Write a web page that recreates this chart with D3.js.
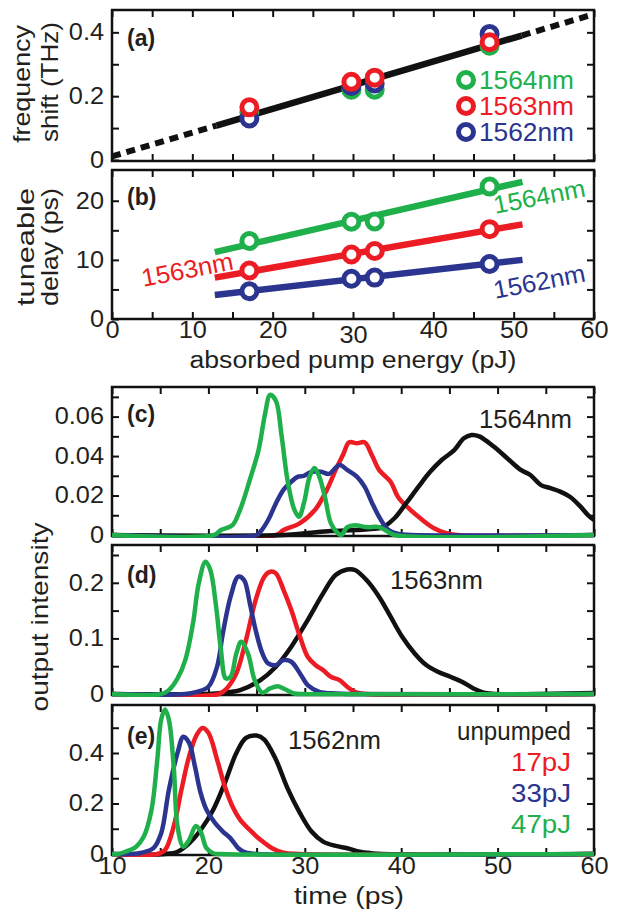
<!DOCTYPE html>
<html>
<head>
<meta charset="utf-8">
<script src="https://cdn.jsdelivr.net/npm/d3@7"></script>
<style>
  body { margin: 0; background: #fff; }
  svg { font-family: "Liberation Sans", Arial, sans-serif; }
  .domain { display: none; }
  .tick line { stroke: #111; stroke-width: 2; }
  .tick text { font-size: 23px; fill: #231f20; }
</style>
</head>
<body>
<div id="chart"></div>
<script>
const width = 618;
const height = 911;

const green = "#20b04b";
const red = "#ec1c24";
const blue = "#2b3590";
const black = "#111";

// (a) + (b): pump energies
const energies = [17.1, 29.8, 32.7, 47.0];
const shift1564 = [0.15, 0.22, 0.22, 0.358];
const shift1563 = [0.165, 0.245, 0.258, 0.369];
const shift1562 = [0.13, 0.232, 0.24, 0.395];
const shiftFitX = [0, 13, 51, 60];
const shiftFitY = [0.011, 0.108, 0.390, 0.457];

const delay1564 = [13.2, 16.45, 16.5, 22.4];
const delay1563 = [8.2, 10.9, 11.5, 15.2];
const delay1562 = [4.7, 6.8, 7.0, 9.3];
const delayFitX = [12.8, 51.1];
const delayFit1564 = [11.3, 23.2];
const delayFit1563 = [7.0, 16.0];
const delayFit1562 = [4.05, 10.0];

// (c) 1564nm traces [time ps, intensity]
const c_unpumped = [[10,0],[27.8,0],[30.3,0.001],[32.7,0.002],[35.2,0.0025],[36.8,0.003],[38.1,0.004],[39.3,0.0085],[40.5,0.016],[41.8,0.0245],[43.0,0.032],[44.2,0.038],[45.5,0.043],[46.5,0.049],[47.3,0.0507],[48.1,0.050],[49.6,0.0448],[51.2,0.038],[52.4,0.033],[53.4,0.0304],[54.5,0.0253],[55.5,0.0237],[56.5,0.022],[57.5,0.0194],[58.6,0.0144],[59.4,0.010],[60,0.0076]];
const c_17 = [[10,0],[27,0],[27.8,0.0025],[29.5,0.006],[31.1,0.013],[32.3,0.023],[33.2,0.033],[34.0,0.041],[34.6,0.047],[35.4,0.0465],[36.2,0.047],[37.0,0.040],[37.7,0.033],[38.9,0.027],[39.7,0.019],[40.9,0.013],[42.2,0.0076],[43.4,0.0034],[44.6,0.001],[45.8,0],[60,0]];
const c_33 = [[10,0],[25,0],[25.4,0.0017],[26.2,0.0076],[27.0,0.016],[27.8,0.023],[28.6,0.027],[29.3,0.0296],[29.9,0.030],[30.7,0.032],[31.7,0.032],[32.5,0.031],[33.6,0.0355],[34.4,0.033],[35.4,0.0296],[36.2,0.0245],[37.0,0.016],[37.9,0.0076],[38.7,0.0025],[39.7,0.0005],[41,0],[60,0]];
const c_47 = [[10,0],[20.6,0],[21.3,0.0025],[22.5,0.005],[23.3,0.013],[24.3,0.028],[25.2,0.043],[25.9,0.062],[26.4,0.071],[27.0,0.068],[27.6,0.05],[28.2,0.028],[28.9,0.013],[29.4,0.0093],[29.9,0.016],[30.5,0.0296],[31.0,0.034],[31.5,0.0296],[32.1,0.019],[32.7,0.006],[33.4,0.001],[33.8,0],[34.4,0.004],[35.2,0.005],[36.4,0.004],[37.7,0.004],[38.5,0.002],[39.3,0],[60,0]];

// (d) 1563nm traces
const d_unpumped = [[10,0],[19.6,0],[21.3,0.002],[23.3,0.007],[25.4,0.025],[27.0,0.049],[28.6,0.085],[30.3,0.133],[31.9,0.181],[33.2,0.214],[34.4,0.224],[35.2,0.223],[36.4,0.205],[37.7,0.175],[38.9,0.139],[40.1,0.103],[41.4,0.073],[42.6,0.052],[43.8,0.040],[45.1,0.031],[46.3,0.022],[47.5,0.010],[48.7,0.002],[50,0],[60,0.002]];
const d_17 = [[10,0],[21.1,0],[21.9,0.010],[22.9,0.037],[23.9,0.097],[24.9,0.169],[25.8,0.211],[26.4,0.220],[27.0,0.217],[27.8,0.187],[28.6,0.151],[29.5,0.103],[30.3,0.067],[31.1,0.052],[31.9,0.043],[32.7,0.031],[33.6,0.025],[34.4,0.013],[35.2,0.004],[36.4,0],[60,0]];
const d_33 = [[10,0],[17.6,0],[18.8,0.004],[20.0,0.013],[20.9,0.049],[21.5,0.109],[22.3,0.175],[23.1,0.211],[23.7,0.205],[24.3,0.163],[24.9,0.115],[25.6,0.073],[26.2,0.055],[27.0,0.052],[27.8,0.061],[28.6,0.058],[29.5,0.037],[30.3,0.016],[31.5,0.004],[33.2,0.001],[34.5,0],[60,0]];
const d_47 = [[10,0],[15.1,0],[15.9,0.007],[16.8,0.028],[17.6,0.061],[18.4,0.127],[19.0,0.199],[19.7,0.238],[20.2,0.223],[20.8,0.157],[21.3,0.079],[21.8,0.028],[22.3,0.031],[22.9,0.073],[23.4,0.094],[24.1,0.073],[24.8,0.025],[25.6,0.0024],[26.4,0.010],[27.2,0.014],[28.0,0.008],[28.9,0.001],[30,0],[60,0]];

// (e) 1562nm traces
const e_unpumped = [[10,0],[15.5,0],[16.8,0.009],[18.0,0.042],[19.2,0.095],[20.5,0.175],[21.7,0.281],[22.9,0.40],[23.9,0.46],[25.0,0.469],[25.8,0.453],[27.0,0.374],[28.2,0.261],[29.5,0.162],[30.7,0.089],[31.9,0.049],[33.2,0.032],[34.4,0.023],[35.7,0.009],[36.9,0.003],[38,0],[60,0]];
const e_17 = [[10,0],[14.7,0],[15.5,0.016],[16.4,0.109],[17.2,0.254],[18.0,0.387],[18.8,0.473],[19.4,0.499],[20.0,0.48],[20.9,0.374],[21.7,0.268],[22.5,0.188],[23.3,0.135],[24.3,0.095],[25.4,0.056],[26.6,0.023],[27.8,0.005],[29.4,0],[60,0]];
const e_33 = [[10,0],[11.8,0],[13.1,0.005],[14.3,0.023],[15.1,0.082],[15.9,0.254],[16.8,0.40],[17.4,0.464],[18.0,0.44],[18.6,0.347],[19.2,0.241],[19.8,0.175],[20.7,0.122],[21.5,0.089],[22.3,0.062],[23.1,0.023],[23.9,0.005],[25,0],[60,0]];
const e_47 = [[10,0],[10.6,0],[11.4,0.009],[12.5,0.029],[13.3,0.069],[14.1,0.175],[14.7,0.374],[15.1,0.532],[15.5,0.572],[15.9,0.532],[16.4,0.347],[16.8,0.109],[17.4,0.029],[18.0,0.056],[18.7,0.111],[19.2,0.089],[19.8,0.023],[20.5,0.003],[21.3,0],[60,0]];

const svg = d3.select("#chart").append("svg")
    .attr("width", width)
    .attr("height", height);

const left = 112;
const right = 594;

// tick labels in the figure are a little wider than Liberation Sans
function widen(sel) {
    sel.selectAll(".tick text").each(function () {
        if (this.textContent) {
            d3.select(this)
                .attr("textLength", this.getComputedTextLength() * 1.1)
                .attr("lengthAdjust", "spacingAndGlyphs");
        }
    });
}

function frame(top, bottom, x, y, xTicks, xLabels, yTicks, yLabels) {
    const g = svg.append("g");
    g.append("rect")
        .attr("x", left).attr("y", top)
        .attr("width", right - left).attr("height", bottom - top)
        .attr("fill", "none").attr("stroke", "#111").attr("stroke-width", 2.5);
    const fmtX = d => xLabels.includes(d) ? d : "";
    const fmtY = d => {
        const hit = yLabels.find(v => Math.abs(v - d) < 1e-9);
        return hit === undefined ? "" : String(hit);
    };
    g.append("g").attr("class", "xaxis").attr("transform", `translate(0,${bottom})`)
        .call(d3.axisBottom(x).tickValues(xTicks).tickSize(-7).tickPadding(3).tickFormat(fmtX))
        .call(widen);
    g.append("g").attr("transform", `translate(0,${top})`)
        .call(d3.axisTop(x).tickValues(xTicks).tickSize(-7).tickFormat(""));
    g.append("g").attr("transform", `translate(${left},0)`)
        .call(d3.axisLeft(y).tickValues(yTicks).tickSize(-7).tickPadding(8).tickFormat(fmtY))
        .call(widen);
    g.append("g").attr("transform", `translate(${right},0)`)
        .call(d3.axisRight(y).tickValues(yTicks).tickSize(-7).tickFormat(""));
    return g;
}

function panelLabel(text, y) {
    svg.append("text").attr("x", 127).attr("y", y)
        .attr("font-size", 23).attr("font-weight", "bold").attr("fill", "#231f20")
        .text(text);
}

function vTitle(text, x, yc, len) {
    svg.append("text")
        .attr("transform", `translate(${x},${yc}) rotate(-90)`)
        .attr("text-anchor", "middle")
        .attr("font-size", 24).attr("fill", "#231f20")
        .attr("textLength", len).attr("lengthAdjust", "spacingAndGlyphs")
        .text(text);
}

// ---------- (a) ----------
const xE = d3.scaleLinear().domain([0, 60]).range([left, right]);
const yA = d3.scaleLinear().domain([0, 0.47]).range([160, 10]);
frame(10, 161, xE, yA, d3.range(0, 61, 5), [], d3.range(0, 0.45, 0.1), [0, 0.2, 0.4]);

const fitLine = d3.line().x(d => xE(d[0])).y(d => yA(d[1]));
const fitPts = shiftFitX.map((v, i) => [v, shiftFitY[i]]);
[fitPts.slice(0, 2), fitPts.slice(2, 4)].forEach(seg => {
    svg.append("path").datum(seg).attr("d", fitLine)
        .attr("stroke", black).attr("stroke-width", 6).attr("stroke-dasharray", "9,6").attr("fill", "none");
});
svg.append("path").datum(fitPts.slice(1, 3)).attr("d", fitLine)
    .attr("stroke", black).attr("stroke-width", 6.5).attr("fill", "none");

function rings(vals, yScale, color) {
    svg.append("g").selectAll("circle")
        .data(energies.map((e, i) => [e, vals[i]]))
        .enter().append("circle")
        .attr("cx", d => xE(d[0])).attr("cy", d => yScale(d[1]))
        .attr("r", 7.5).attr("fill", "#fff")
        .attr("stroke", color).attr("stroke-width", 5);
}
rings(shift1564, yA, green);
rings(shift1562, yA, blue);
rings(shift1563, yA, red);

const legendA = [["1564nm", green], ["1563nm", red], ["1562nm", blue]];
legendA.forEach(([t, c], i) => {
    const yy = 80 + i * 26;
    svg.append("circle").attr("cx", 466).attr("cy", yy).attr("r", 7.5)
        .attr("fill", "#fff").attr("stroke", c).attr("stroke-width", 5);
    svg.append("text").attr("x", 479).attr("y", yy + 9)
        .attr("font-size", 25).attr("fill", c)
        .attr("textLength", 95).attr("lengthAdjust", "spacingAndGlyphs").text(t);
});
panelLabel("(a)", 46);
vTitle("frequency", 30, 84, 118);
vTitle("shift (THz)", 58, 82, 120);

// ---------- (b) ----------
const yB = d3.scaleLinear().domain([0, 25.2]).range([319, 170]);
const gB = frame(170, 319, xE, yB, d3.range(0, 61, 5), [0, 10, 20, 30, 40, 50, 60], d3.range(0, 25, 5), [0, 10, 20]);
gB.selectAll(".xaxis .tick text").filter(d => d === 30).attr("transform", "translate(0,5)");

const delayLine = d3.line().x(d => xE(d[0])).y(d => yB(d[1]));
[[delayFit1564, delay1564, green], [delayFit1563, delay1563, red], [delayFit1562, delay1562, blue]].forEach(([fit, pts, c]) => {
    svg.append("path").datum(delayFitX.map((v, i) => [v, fit[i]])).attr("d", delayLine)
        .attr("stroke", c).attr("stroke-width", 6.5).attr("fill", "none");
    rings(pts, yB, c);
});
function slantLabel(text, cx, cy, color) {
    svg.append("text")
        .attr("transform", `translate(${cx},${cy}) rotate(-11)`)
        .attr("text-anchor", "middle")
        .attr("font-size", 25).attr("fill", color)
        .attr("textLength", 93).attr("lengthAdjust", "spacingAndGlyphs")
        .text(text);
}
slantLabel("1564nm", 541, 205, green);
slantLabel("1563nm", 189, 278, red);
slantLabel("1562nm", 541, 290, blue);
panelLabel("(b)", 205);
vTitle("tuneable", 34, 247, 118);
vTitle("delay (ps)", 58, 247, 118);

svg.append("text").attr("x", 353).attr("y", 368).attr("text-anchor", "middle")
    .attr("font-size", 23).attr("fill", "#231f20")
    .attr("textLength", 327).attr("lengthAdjust", "spacingAndGlyphs")
    .text("absorbed pump energy (pJ)");

// ---------- (c), (d), (e) ----------
const xT = d3.scaleLinear().domain([10, 60]).range([left, right]);
const traceLine = y => d3.line().curve(d3.curveCatmullRom.alpha(0.5)).x(d => xT(d[0])).y(d => y(d[1]));

function tracePanel(top, bottom, yMax, yTicks, yLabels, series, showX) {
    const y = d3.scaleLinear().domain([0, yMax]).range([bottom - 1, top]);
    frame(top, bottom, xT, y, d3.range(10, 61, 5), showX ? [10, 20, 30, 40, 50, 60] : [], yTicks, yLabels);
    const clipId = "clip" + top;
    svg.append("clipPath").attr("id", clipId).append("rect")
        .attr("x", left).attr("y", top).attr("width", right - left).attr("height", bottom - top + 2);
    const g = svg.append("g").attr("clip-path", `url(#${clipId})`);
    series.forEach(([pts, c]) => {
        g.append("path").datum(pts).attr("d", traceLine(y))
            .attr("stroke", c).attr("stroke-width", 4.5).attr("fill", "none")
            .attr("stroke-linejoin", "round");
    });
}

tracePanel(387, 536, 0.075, d3.range(0, 0.071, 0.01), [0, 0.02, 0.04, 0.06],
    [[c_17, red], [c_unpumped, black], [c_33, blue], [c_47, green]], false);
tracePanel(545, 695, 0.268, d3.range(0, 0.26, 0.05), [0, 0.1, 0.2],
    [[d_unpumped, black], [d_17, red], [d_33, blue], [d_47, green]], false);
tracePanel(705, 855, 0.59, d3.range(0, 0.58, 0.1), [0, 0.2, 0.4],
    [[e_unpumped, black], [e_17, red], [e_33, blue], [e_47, green]], true);

panelLabel("(c)", 422);
panelLabel("(d)", 583);
panelLabel("(e)", 744);

function inText(text, x, y, color, anchor, len) {
    svg.append("text").attr("x", x).attr("y", y).attr("text-anchor", anchor)
        .attr("font-size", 25).attr("fill", color)
        .attr("textLength", len).attr("lengthAdjust", "spacingAndGlyphs")
        .text(text);
}
inText("1564nm", 479, 428, "#231f20", "start", 93);
inText("1563nm", 390, 589, "#231f20", "start", 93);
inText("1562nm", 288, 749, "#231f20", "start", 93);
inText("unpumped", 571, 740, "#231f20", "end", 114);
inText("17pJ", 571, 771, red, "end", 60);
inText("33pJ", 571, 802, blue, "end", 60);
inText("47pJ", 571, 833, green, "end", 60);

vTitle("output intensity", 48, 617, 189);

svg.append("text").attr("x", 349).attr("y", 904).attr("text-anchor", "middle")
    .attr("font-size", 23).attr("fill", "#231f20")
    .attr("textLength", 110).attr("lengthAdjust", "spacingAndGlyphs")
    .text("time (ps)");
</script>
</body>
</html>
